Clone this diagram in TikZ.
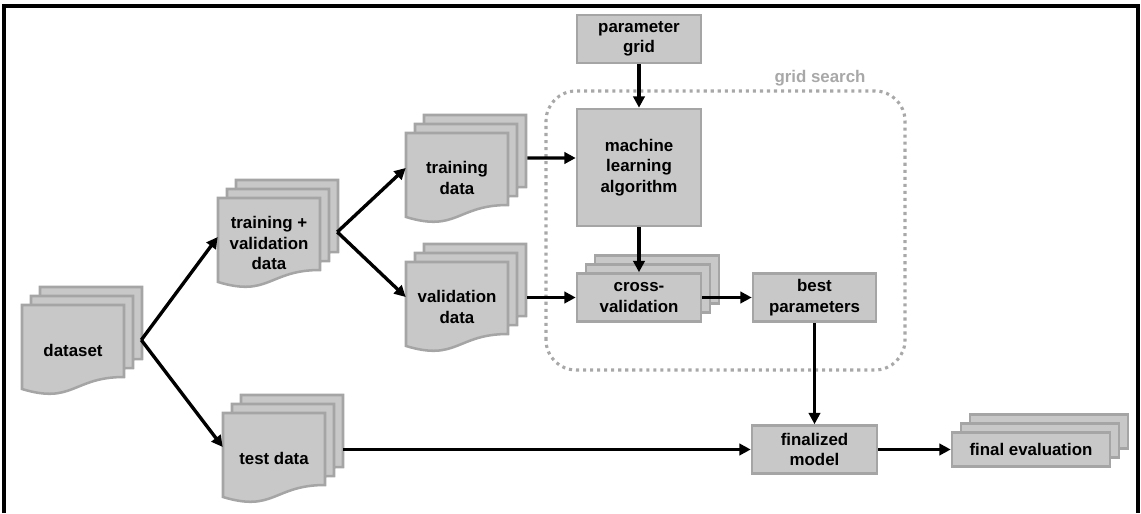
\documentclass[tikz,border=0pt]{standalone}
\usepackage{fontspec}
\setmainfont{Liberation Sans}
\usetikzlibrary{arrows.meta,shadows}
\definecolor{boxfill}{RGB}{200,200,200}
\definecolor{boxline}{RGB}{165,165,165}
\definecolor{gsgray}{RGB}{168,168,168}
% three sheets with a wavy bottom, back ones first
\newcommand{\docstack}[2]{%
  \foreach \s in {18,9,0}
    \draw[sheet, shift={(#1+\s,#2+\s)}] (-51,45) -- (51,45) -- (51,-27)
      .. controls (0,-27) and (0,-54.6) .. (-51,-39) -- cycle;}
\begin{document}
\begin{tikzpicture}[
  x=0.025cm, y=0.025cm,
  font=\bfseries\fontsize{12}{14.6}\selectfont,
  sheet/.style={draw=boxline, fill=boxfill, line width=1.8pt},
  doc/.style={rectangle, align=center, inner sep=0pt, minimum width=2.55cm,
    minimum height=2.25cm},
  box/.style={rectangle, draw=boxline, fill=boxfill, line width=1.8pt, align=center,
    inner sep=0pt, minimum width=3.1cm, minimum height=1.2cm},
  pile/.style={box, double copy shadow={shadow xshift=0.225cm, shadow yshift=0.225cm}},
  gs/.style={draw=gsgray, line width=2.2pt, dash pattern=on 2.2pt off 2.8pt,
    rounded corners=0.75cm},
  a/.style={line width=2.4pt, -{Triangle[length=8pt,width=8pt]}}
]
\useasboundingbox (0,0) rectangle (1141,513);
\draw[line width=2.2pt] (4,0) -- (4,507) -- (1138,507) -- (1138,0);
% grid search area
\draw[gs] (546,143) rectangle (905,422);
\node[text=gsgray, anchor=base] (gslabel) at (820,430) {grid search};
% data sets
\docstack{73}{163}
\node[doc] (dataset) at (73,163) {dataset};
\docstack{269}{270}
\node[doc] (trval) at (269,270) {training +\\validation\\data};
\docstack{457}{335}
\node[doc] (train) at (457,335) {training\\data};
\docstack{457}{206}
\node[doc] (valid) at (457,206) {validation\\data};
\docstack{274}{55}
\node[doc] (test) at (274,55) {test data};
% steps
\node[box] (param) at (639,474) {parameter\\grid};
\node[box, minimum height=2.925cm] (mla) at (639,345.5) {machine\\learning\\algorithm};
\node[pile] (cv) at (639,215.5) {cross-\\validation};
\node[box, minimum width=3.075cm] (best) at (814.5,215.5) {best\\parameters};
\node[box, minimum width=3.125cm] (final) at (814.5,63.5) {finalized\\model};
\node[pile, minimum width=3.95cm, minimum height=0.85cm] (eval) at (1031,63.5) {final evaluation};
\draw[a] ([shift={(17,10)}]dataset.east) -- ([shift={(0,6)}]trval.west);
\draw[a] ([shift={(17,10)}]dataset.east) -- ([shift={(0,11)}]test.west);
\draw[a] ([shift={(17,11)}]trval.east) -- ([shift={(0,10)}]train.west);
\draw[a] ([shift={(17,11)}]trval.east) -- ([shift={(0,10)}]valid.west);
\draw[a] ([shift={(19,20)}]train.east) -- ([shift={(0,9.5)}]mla.west);
\draw[a] ([shift={(19,9.5)}]valid.east) -- (cv.west);
\draw[a] (param) -- (mla);
\draw[a] (mla) -- (cv);
\draw[a] (cv.east) -- (best.west);
\draw[a] (best) -- (final);
\draw[a] ([shift={(18,8.5)}]test.east) -- (final.west);
\draw[a] (final) -- (eval);
\end{tikzpicture}
\end{document}
